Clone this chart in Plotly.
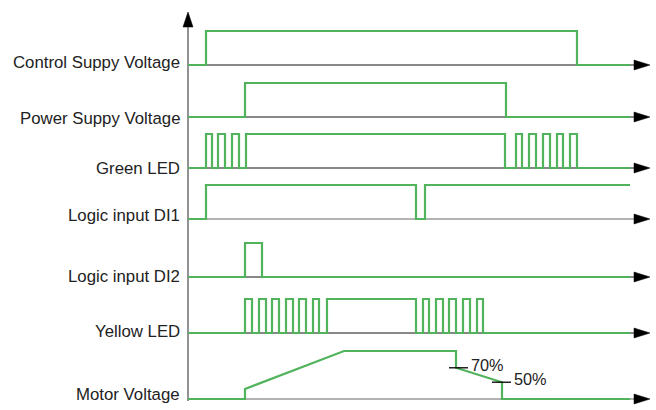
import plotly.graph_objects as go

# ---- data (time units, signal levels 0..1) ----
labels = ["Control Suppy Voltage", "Power Suppy Voltage", "Green LED",
          "Logic input DI1", "Logic input DI2", "Yellow LED", "Motor Voltage"]

T_END = 442

control_high = [(18, 389)]
power_high = [(57, 318)]
green_high = [(18, 24), (30, 37), (44, 51), (58, 317), (328, 334), (341, 348),
              (355, 362), (369, 375), (382, 389)]
di1_high = [(18, 228), (237, 442)]
di2_high = [(57, 74)]
yellow_high = [(57, 64), (71, 78), (84, 91), (98, 105), (111, 118), (125, 131),
               (139, 228), (235, 241), (248, 255), (261, 268), (275, 282), (289, 295)]

motor_t = [0, 57, 57, 156, 268, 268, 314, 314, 442]
motor_v = [0, 0, 0.21, 1.0, 1.0, 0.65, 0.35, 0, 0]

pct_labels = ["70%", "50%"]
pct_t = [261, 304]
pct_level = [0.65, 0.35]

# ---- layout constants ----
W, H = 656, 410
X0 = 188                      # vertical axis position (px)
BASE = [65, 117, 168, 219, 277, 333, 399]
LABEL_Y = [62, 118, 168, 215, 276, 331, 394]
AMP = 34
MOTOR_AMP = 48
GREEN = "#52b35d"
BASE_COLORS = ["#111", "#111", "#111", "#666", "#111", "#111", "#666"]
FONT = "Liberation Sans, Arial, sans-serif"


def steps(intervals):
    xs, ys = [0], [0]
    for a, b in intervals:
        xs += [a, a]
        ys += [0, 1]
        if b >= T_END:
            xs += [T_END]
            ys += [1]
            return xs, ys
        xs += [b, b]
        ys += [1, 0]
    xs.append(T_END)
    ys.append(0)
    return xs, ys


fig = go.Figure()

# baselines + arrowheads
for i, b in enumerate(BASE):
    fig.add_trace(go.Scatter(x=[0, 449], y=[b, b], mode="lines",
                             line=dict(color=BASE_COLORS[i], width=1),
                             hoverinfo="skip", showlegend=False))
    fig.add_trace(go.Scatter(x=[446, 462, 446, 446], y=[b - 5, b, b + 5, b - 5],
                             mode="lines", fill="toself", fillcolor="black",
                             line=dict(color="black", width=0.5),
                             hoverinfo="skip", showlegend=False))

# vertical axis
fig.add_trace(go.Scatter(x=[0, 0], y=[401, 24], mode="lines",
                         line=dict(color="#777", width=1.6),
                         hoverinfo="skip", showlegend=False))
fig.add_trace(go.Scatter(x=[-5, 0, 5, -5], y=[27, 12, 27, 27], mode="lines",
                         fill="toself", fillcolor="black",
                         line=dict(color="black", width=0.5),
                         hoverinfo="skip", showlegend=False))

# digital signals
signals = [control_high, power_high, green_high, di1_high, di2_high, yellow_high]
for i, sig in enumerate(signals):
    xs, lv = steps(sig)
    ys = [BASE[i] - v * AMP for v in lv]
    fig.add_trace(go.Scatter(x=xs, y=ys, mode="lines",
                             line=dict(color=GREEN, width=2.2),
                             hoverinfo="skip", showlegend=False))

# motor voltage
mb = BASE[6]
fig.add_trace(go.Scatter(x=motor_t, y=[mb - v * MOTOR_AMP for v in motor_v],
                         mode="lines", line=dict(color=GREEN, width=2.2),
                         hoverinfo="skip", showlegend=False))

# percentage ticks and labels
for lab, t, lv in zip(pct_labels, pct_t, pct_level):
    y = mb - lv * MOTOR_AMP
    fig.add_trace(go.Scatter(x=[t, t + 19], y=[y, y], mode="lines",
                             line=dict(color="black", width=1.3),
                             hoverinfo="skip", showlegend=False))
    fig.add_annotation(x=t + 20, y=y - 3, text=lab, showarrow=False,
                       xanchor="left", yanchor="middle",
                       font=dict(family=FONT, size=16.3, color="#222"))

# signal labels
for lab, y in zip(labels, LABEL_Y):
    fig.add_annotation(x=-6, y=y, text=lab, showarrow=False,
                       xanchor="right", yanchor="middle",
                       font=dict(family=FONT, size=16.8, color="#222"))

fig.update_layout(
    width=W, height=H, margin=dict(l=0, r=0, t=0, b=0),
    paper_bgcolor="white", plot_bgcolor="white",
    xaxis=dict(range=[-X0, W - X0], visible=False, fixedrange=True),
    yaxis=dict(range=[H, 0], visible=False, fixedrange=True),
    showlegend=False,
)

fig.write_html("out.html", config={"displayModeBar": False})

# remove the default page margin so the figure sits at the window origin
with open("out.html", "r", encoding="utf-8") as f:
    html = f.read()
html = html.replace("<head>",
                    "<head><style>html,body{margin:0;padding:0;overflow:hidden}</style>", 1)
with open("out.html", "w", encoding="utf-8") as f:
    f.write(html)
